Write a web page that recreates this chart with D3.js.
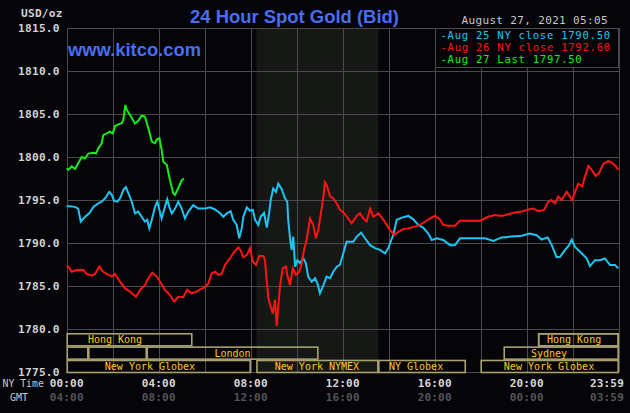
<!DOCTYPE html>
<html><head><meta charset="utf-8">
<script src="https://cdn.jsdelivr.net/npm/d3@7"></script>
<style>
html,body{margin:0;padding:0;background:#050408;}
svg{display:block;}
</style></head>
<body>
<svg id="chart" width="630" height="413"></svg>
<script>
// ---------------- DATA ----------------
const title = "24 Hour Spot Gold (Bid)";
const site = "www.kitco.com";
const unitLabel = "USD/oz";
const stamp = "August 27, 2021 05:05";
const yTicks = [1775, 1780, 1785, 1790, 1795, 1800, 1805, 1810, 1815];
const xGridHours = [0,2,4,6,8,10,12,14,16,18,20,22,24];
const xTickHours = [0, 4, 8, 12, 16, 20, 24];
const nyLabels = ["00:00","04:00","08:00","12:00","16:00","20:00","23:59"];
const gmtLabels = ["04:00","08:00","12:00","16:00","20:00","00:00","03:59"];
const shadeHours = [8.25, 13.55];
const legendNames = ["Aug 25 NY close 1790.50", "Aug 26 NY close 1792.60", "Aug 27 Last 1797.50"];

// sessions: [row, start hour, end hour, label, label-centre hour]
const sessionRows  = [0, 0, 1, 1, 1, 2, 2, 2, 2, 0, 1];
const sessionStart = [0, 20.5, 0, 0.94, 3.48, 0, 8.25, 13.55, 18.0, 20.5, 19.0];
const sessionEnd   = [5.46, 24, 0.94, 3.48, 10.94, 8.0, 13.55, 17.35, 24, 24, 24];
const sessionNames = ["Hong Kong", "", "", "", "London", "New York Globex", "New York NYMEX", "NY Globex", "New York Globex", "Hong Kong", "Sydney"];
const sessionLabelAt = [2.1, 0, 0, 0, 7.21, 3.62, 10.88, 15.19, 20.97, 22.06, 20.97];

const hoursAug25 = [0.00,0.36,0.50,0.61,0.80,0.98,1.16,1.37,1.52,1.67,1.85,1.96,2.06,2.20,2.32,2.46,2.57,2.68,2.83,2.97,3.11,3.26,3.40,3.50,3.59,3.70,3.84,3.94,4.03,4.13,4.27,4.37,4.46,4.57,4.71,4.85,5.00,5.14,5.29,5.50,5.72,6.01,6.23,6.45,6.67,6.81,6.96,7.13,7.24,7.39,7.50,7.61,7.68,7.83,7.97,8.09,8.19,8.33,8.43,8.58,8.70,8.81,8.87,8.98,9.10,9.20,9.35,9.49,9.59,9.63,9.71,9.78,9.85,9.93,10.03,10.14,10.29,10.40,10.50,10.65,10.80,10.90,11.01,11.16,11.30,11.45,11.59,11.74,11.88,11.96,12.17,12.46,12.61,12.80,12.97,13.19,13.40,13.62,13.84,13.98,14.20,14.35,14.57,14.85,15.07,15.29,15.50,15.72,15.87,16.09,16.37,16.67,16.88,17.10,17.46,17.97,18.19,18.55,18.91,19.35,19.78,20.14,20.43,20.65,20.91,21.09,21.30,21.45,21.67,21.84,21.96,22.10,22.39,22.61,22.75,22.97,23.19,23.40,23.62,23.84,23.98];
const valuesAug25 = [1794.3,1794.2,1794.0,1792.5,1793.05,1793.45,1794.2,1794.6,1794.8,1795.2,1795.95,1795.6,1794.9,1794.8,1795.2,1796.15,1796.5,1795.8,1794.8,1793.45,1793.65,1793.05,1792.5,1792.7,1791.7,1792.7,1794.2,1794.8,1793.85,1792.85,1794.2,1795.1,1794.2,1793.45,1794.0,1794.8,1794.0,1792.85,1793.65,1794.4,1794.0,1794.0,1794.15,1793.9,1793.45,1793.05,1793.45,1793.7,1792.7,1792.1,1790.55,1791.7,1793.05,1794.15,1793.75,1793.85,1792.7,1792.1,1793.05,1793.5,1791.8,1793.65,1795.0,1796.35,1795.95,1796.9,1796.25,1795.2,1794.8,1792.7,1790.55,1789.2,1790.75,1787.25,1788.0,1787.65,1788.2,1787.65,1786.1,1785.5,1785.9,1785.3,1784.15,1785.1,1786.1,1785.9,1786.65,1787.25,1787.45,1788.2,1790.15,1790.15,1790.75,1791.2,1790.55,1789.75,1789.4,1789.2,1788.8,1789.4,1790.95,1792.7,1792.95,1793.15,1792.75,1792.1,1791.8,1791.1,1790.35,1790.55,1790.35,1789.75,1789.75,1790.55,1790.55,1790.55,1790.55,1790.25,1790.65,1790.75,1790.85,1791.1,1790.9,1790.4,1790.65,1789.75,1788.35,1788.4,1789.2,1789.75,1790.4,1789.55,1788.8,1788.2,1787.3,1788.0,1788.0,1788.2,1787.45,1787.45,1787.05];

const hoursAug26 = [0.00,0.07,0.22,0.43,0.72,0.87,1.09,1.23,1.42,1.59,1.74,1.96,2.10,2.32,2.53,2.75,3.01,3.19,3.40,3.55,3.72,3.91,4.06,4.27,4.49,4.67,4.85,5.07,5.24,5.43,5.65,5.80,6.01,6.16,6.30,6.45,6.59,6.74,6.88,7.10,7.24,7.46,7.54,7.68,7.83,7.97,8.09,8.23,8.37,8.55,8.62,8.70,8.77,8.87,8.96,9.06,9.13,9.20,9.27,9.39,9.53,9.59,9.71,9.83,9.97,10.11,10.22,10.32,10.43,10.58,10.72,10.84,10.94,11.04,11.16,11.23,11.33,11.45,11.59,11.74,11.88,12.03,12.24,12.39,12.61,12.75,12.90,13.04,13.19,13.33,13.55,13.77,14.06,14.24,14.42,14.63,14.85,15.14,15.36,15.58,15.80,16.01,16.23,16.37,16.59,16.88,17.10,17.46,17.97,18.33,18.62,18.91,19.20,19.49,19.78,20.07,20.29,20.50,20.76,20.91,21.06,21.23,21.37,21.52,21.74,21.98,22.10,22.24,22.42,22.53,22.68,22.83,23.00,23.14,23.33,23.55,23.69,23.87,23.98];
const valuesAug26 = [1787.35,1787.25,1786.65,1786.85,1786.85,1786.4,1786.2,1786.4,1787.25,1786.65,1786.4,1786.1,1786.4,1785.5,1784.75,1784.35,1783.75,1784.55,1785.1,1785.9,1786.55,1786.1,1785.5,1784.55,1783.95,1783.2,1783.75,1783.7,1784.55,1784.15,1784.35,1784.6,1784.85,1785.3,1786.45,1786.65,1786.3,1786.4,1787.45,1788.2,1788.8,1789.5,1789.25,1788.35,1788.6,1789.4,1787.85,1787.45,1788.5,1788.5,1788.0,1785.5,1783.55,1782.6,1781.8,1783.4,1780.35,1782.6,1784.9,1787.05,1787.25,1786.3,1785.1,1787.05,1786.3,1786.65,1787.65,1789.2,1790.35,1792.85,1792.1,1790.55,1791.5,1793.25,1795.4,1797.05,1796.55,1795.4,1795.2,1794.6,1793.85,1793.55,1792.85,1792.3,1793.15,1793.45,1792.85,1792.5,1794.0,1793.05,1793.45,1792.7,1791.5,1790.95,1791.3,1791.6,1791.7,1791.9,1792.1,1792.5,1792.85,1793.15,1792.75,1792.1,1792.0,1792.0,1792.6,1792.6,1792.6,1793.05,1793.25,1793.15,1793.35,1793.55,1793.65,1793.9,1794.0,1793.7,1793.85,1794.7,1795.0,1794.6,1795.4,1795.0,1795.95,1795.0,1795.95,1796.9,1796.6,1797.7,1798.95,1798.5,1797.8,1798.1,1799.2,1799.55,1799.35,1798.95,1798.5];

const hoursAug27 = [0.00,0.07,0.22,0.36,0.58,0.65,0.80,0.94,1.16,1.27,1.37,1.52,1.59,1.74,1.88,2.00,2.10,2.24,2.39,2.46,2.55,2.61,2.75,2.97,3.11,3.26,3.40,3.55,3.70,3.84,3.91,4.03,4.13,4.20,4.35,4.49,4.63,4.71,4.85,5.00,5.10];
const valuesAug27 = [1798.7,1798.5,1798.9,1798.6,1799.65,1800.0,1799.85,1800.4,1800.5,1800.4,1801.0,1801.6,1802.55,1802.75,1802.95,1802.75,1803.6,1803.8,1803.9,1804.3,1806.05,1805.5,1804.9,1803.9,1804.2,1804.8,1804.7,1803.35,1801.8,1801.6,1802.0,1802.2,1800.8,1799.45,1799.1,1797.3,1795.8,1795.6,1796.4,1797.3,1797.5];

const seriesColors = ["#1cc6f4", "#ff1414", "#12f012"];

// ---------------- DRAWING ----------------
const svg = d3.select("#chart");
const mono = "'DejaVu Sans Mono', 'Liberation Mono', monospace";
const sans = "'Liberation Sans', Arial, sans-serif";

const x = d3.scaleLinear().domain([0, 24]).range([66.7, 618.7]);
const y = d3.scaleLinear().domain([1775, 1815]).range([372, 28]);
const gridColor = "#4a4a4a";

// shaded COMEX area
svg.append("rect")
  .attr("x", x(shadeHours[0])).attr("y", y(1815))
  .attr("width", x(shadeHours[1]) - x(shadeHours[0]))
  .attr("height", y(1775) - y(1815))
  .attr("fill", "#161815");

// grid: horizontal
svg.append("g")
  .attr("transform", `translate(${x(0)},0)`)
  .call(d3.axisLeft(y).tickValues(yTicks).tickSize(-(x(24) - x(0))).tickFormat(""))
  .call(g => g.select(".domain").remove())
  .call(g => g.selectAll("line").attr("stroke", gridColor).attr("stroke-width", 1).attr("shape-rendering", "crispEdges"));

// grid: vertical
svg.append("g")
  .attr("transform", `translate(0,${y(1815)})`)
  .call(d3.axisBottom(x).tickValues(xGridHours).tickSize(y(1775) - y(1815)).tickFormat(""))
  .call(g => g.select(".domain").remove())
  .call(g => g.selectAll("line").attr("stroke", gridColor).attr("stroke-width", 1).attr("shape-rendering", "crispEdges"));

// y tick labels
svg.append("g")
  .attr("transform", `translate(${x(0) - 4},0)`)
  .call(d3.axisLeft(y).tickValues(yTicks).tickSize(0).tickFormat(d3.format(".1f")))
  .call(g => g.select(".domain").remove())
  .call(g => g.selectAll("text")
    .attr("fill", "#d2d2d2").attr("font-family", mono).attr("font-weight", "bold")
    .attr("font-size", "11.2px").attr("letter-spacing", "0.2px"));

svg.append("text").text(unitLabel)
  .attr("x", x(0) - 4).attr("y", 14).attr("text-anchor", "end")
  .attr("dominant-baseline", "middle")
  .attr("fill", "#d2d2d2").attr("font-family", mono).attr("font-weight", "bold").attr("font-size", "11.2px")
  .attr("letter-spacing", "0.2px");

// session boxes
const rowScale = d3.scaleBand().domain([0, 1, 2]).range([y(1780) + 4.8, y(1775) + 0.5]).paddingInner(0.1);
const sessions = sessionRows.map((r, i) => ({row: r, s: sessionStart[i], e: sessionEnd[i], name: sessionNames[i], at: sessionLabelAt[i]}));
const sg = svg.append("g");
sg.selectAll("rect").data(sessions).join("rect")
  .attr("x", d => x(d.s) + 0.5).attr("y", d => rowScale(d.row))
  .attr("width", d => x(d.e) - x(d.s) - 1).attr("height", rowScale.bandwidth())
  .attr("fill", "none").attr("stroke", "#a9a16f").attr("stroke-width", 1.6);
sg.selectAll("text").data(sessions.filter(d => d.name)).join("text")
  .text(d => d.name)
  .attr("x", d => x(d.at)).attr("y", d => rowScale(d.row) + rowScale.bandwidth() / 2 + 0.5)
  .attr("text-anchor", "middle").attr("dominant-baseline", "middle")
  .attr("fill", "#ffc81e").attr("font-family", mono).attr("font-size", "10px");

// series lines
const allSeries = [
  {h: hoursAug25, v: valuesAug25, c: seriesColors[0]},
  {h: hoursAug26, v: valuesAug26, c: seriesColors[1]},
  {h: hoursAug27, v: valuesAug27, c: seriesColors[2]}
];
const line = d3.line().x(d => x(d[0])).y(d => y(d[1]));
svg.append("g").selectAll("path").data(allSeries).join("path")
  .attr("d", s => line(s.h.map((h, i) => [h, s.v[i]])))
  .attr("fill", "none").attr("stroke", s => s.c).attr("stroke-width", 2)
  .attr("stroke-linejoin", "miter");

// legend box
const lg = svg.append("g");
lg.append("rect").attr("x", 435.7).attr("y", y(1815)).attr("width", x(24) - 435.7).attr("height", 39.5)
  .attr("fill", "#050408").attr("stroke", gridColor).attr("stroke-width", 1).attr("shape-rendering", "crispEdges");
lg.selectAll("text").data(legendNames).join("text")
  .text(d => "-" + d)
  .attr("x", 440.5).attr("y", (d, i) => 35.5 + i * 12.4)
  .attr("dominant-baseline", "middle")
  .attr("fill", (d, i) => seriesColors[i]).attr("font-family", mono).attr("font-size", "10.6px")
  .attr("letter-spacing", "0.72px");

// stamp
svg.append("text").text(stamp)
  .attr("x", 461.5).attr("y", 21).attr("dominant-baseline", "middle")
  .attr("fill", "#c8c8c8").attr("font-family", mono).attr("font-size", "11px").attr("letter-spacing", "0.35px");

// title
const t = svg.append("text").text(title)
  .attr("x", 190).attr("y", 23)
  .attr("fill", "#4b6df2").attr("font-family", sans).attr("font-weight", "bold").attr("font-size", "20px");
const tw = t.node().getComputedTextLength();
t.attr("font-size", (20 * 209 / tw).toFixed(2) + "px");

const k = svg.append("text").text(site)
  .attr("x", 68).attr("y", 56)
  .attr("fill", "#4b6df2").attr("font-family", sans).attr("font-weight", "bold").attr("font-size", "18px");
const kw = k.node().getComputedTextLength();
k.attr("font-size", (18 * 133 / kw).toFixed(2) + "px");

// x labels
const xl = svg.append("g");
xl.selectAll("text.ny").data(xTickHours).join("text").attr("class", "ny")
  .text((d, i) => nyLabels[i])
  .attr("x", (d, i) => i === xTickHours.length - 1 ? 624 : x(d))
  .attr("text-anchor", (d, i) => i === xTickHours.length - 1 ? "end" : "middle")
  .attr("y", 384).attr("dominant-baseline", "middle")
  .attr("fill", "#d8d8d8").attr("font-family", mono).attr("font-weight", "bold").attr("font-size", "11px")
  .attr("letter-spacing", "0.2px");
xl.selectAll("text.gmt").data(xTickHours).join("text").attr("class", "gmt")
  .text((d, i) => gmtLabels[i])
  .attr("x", (d, i) => i === xTickHours.length - 1 ? 624 : x(d))
  .attr("text-anchor", (d, i) => i === xTickHours.length - 1 ? "end" : "middle")
  .attr("y", 398).attr("dominant-baseline", "middle")
  .attr("fill", "#555555").attr("font-family", mono).attr("font-weight", "bold").attr("font-size", "11px")
  .attr("letter-spacing", "0.2px");
svg.append("text").text("NY Time").attr("x", 2.5).attr("y", 384).attr("dominant-baseline", "middle")
  .attr("fill", "#c8c8c8").attr("font-family", mono).attr("font-size", "9.8px");
svg.append("text").text("GMT").attr("x", 10).attr("y", 398).attr("dominant-baseline", "middle")
  .attr("fill", "#c8c8c8").attr("font-family", mono).attr("font-size", "10px");
</script>
</body></html>
